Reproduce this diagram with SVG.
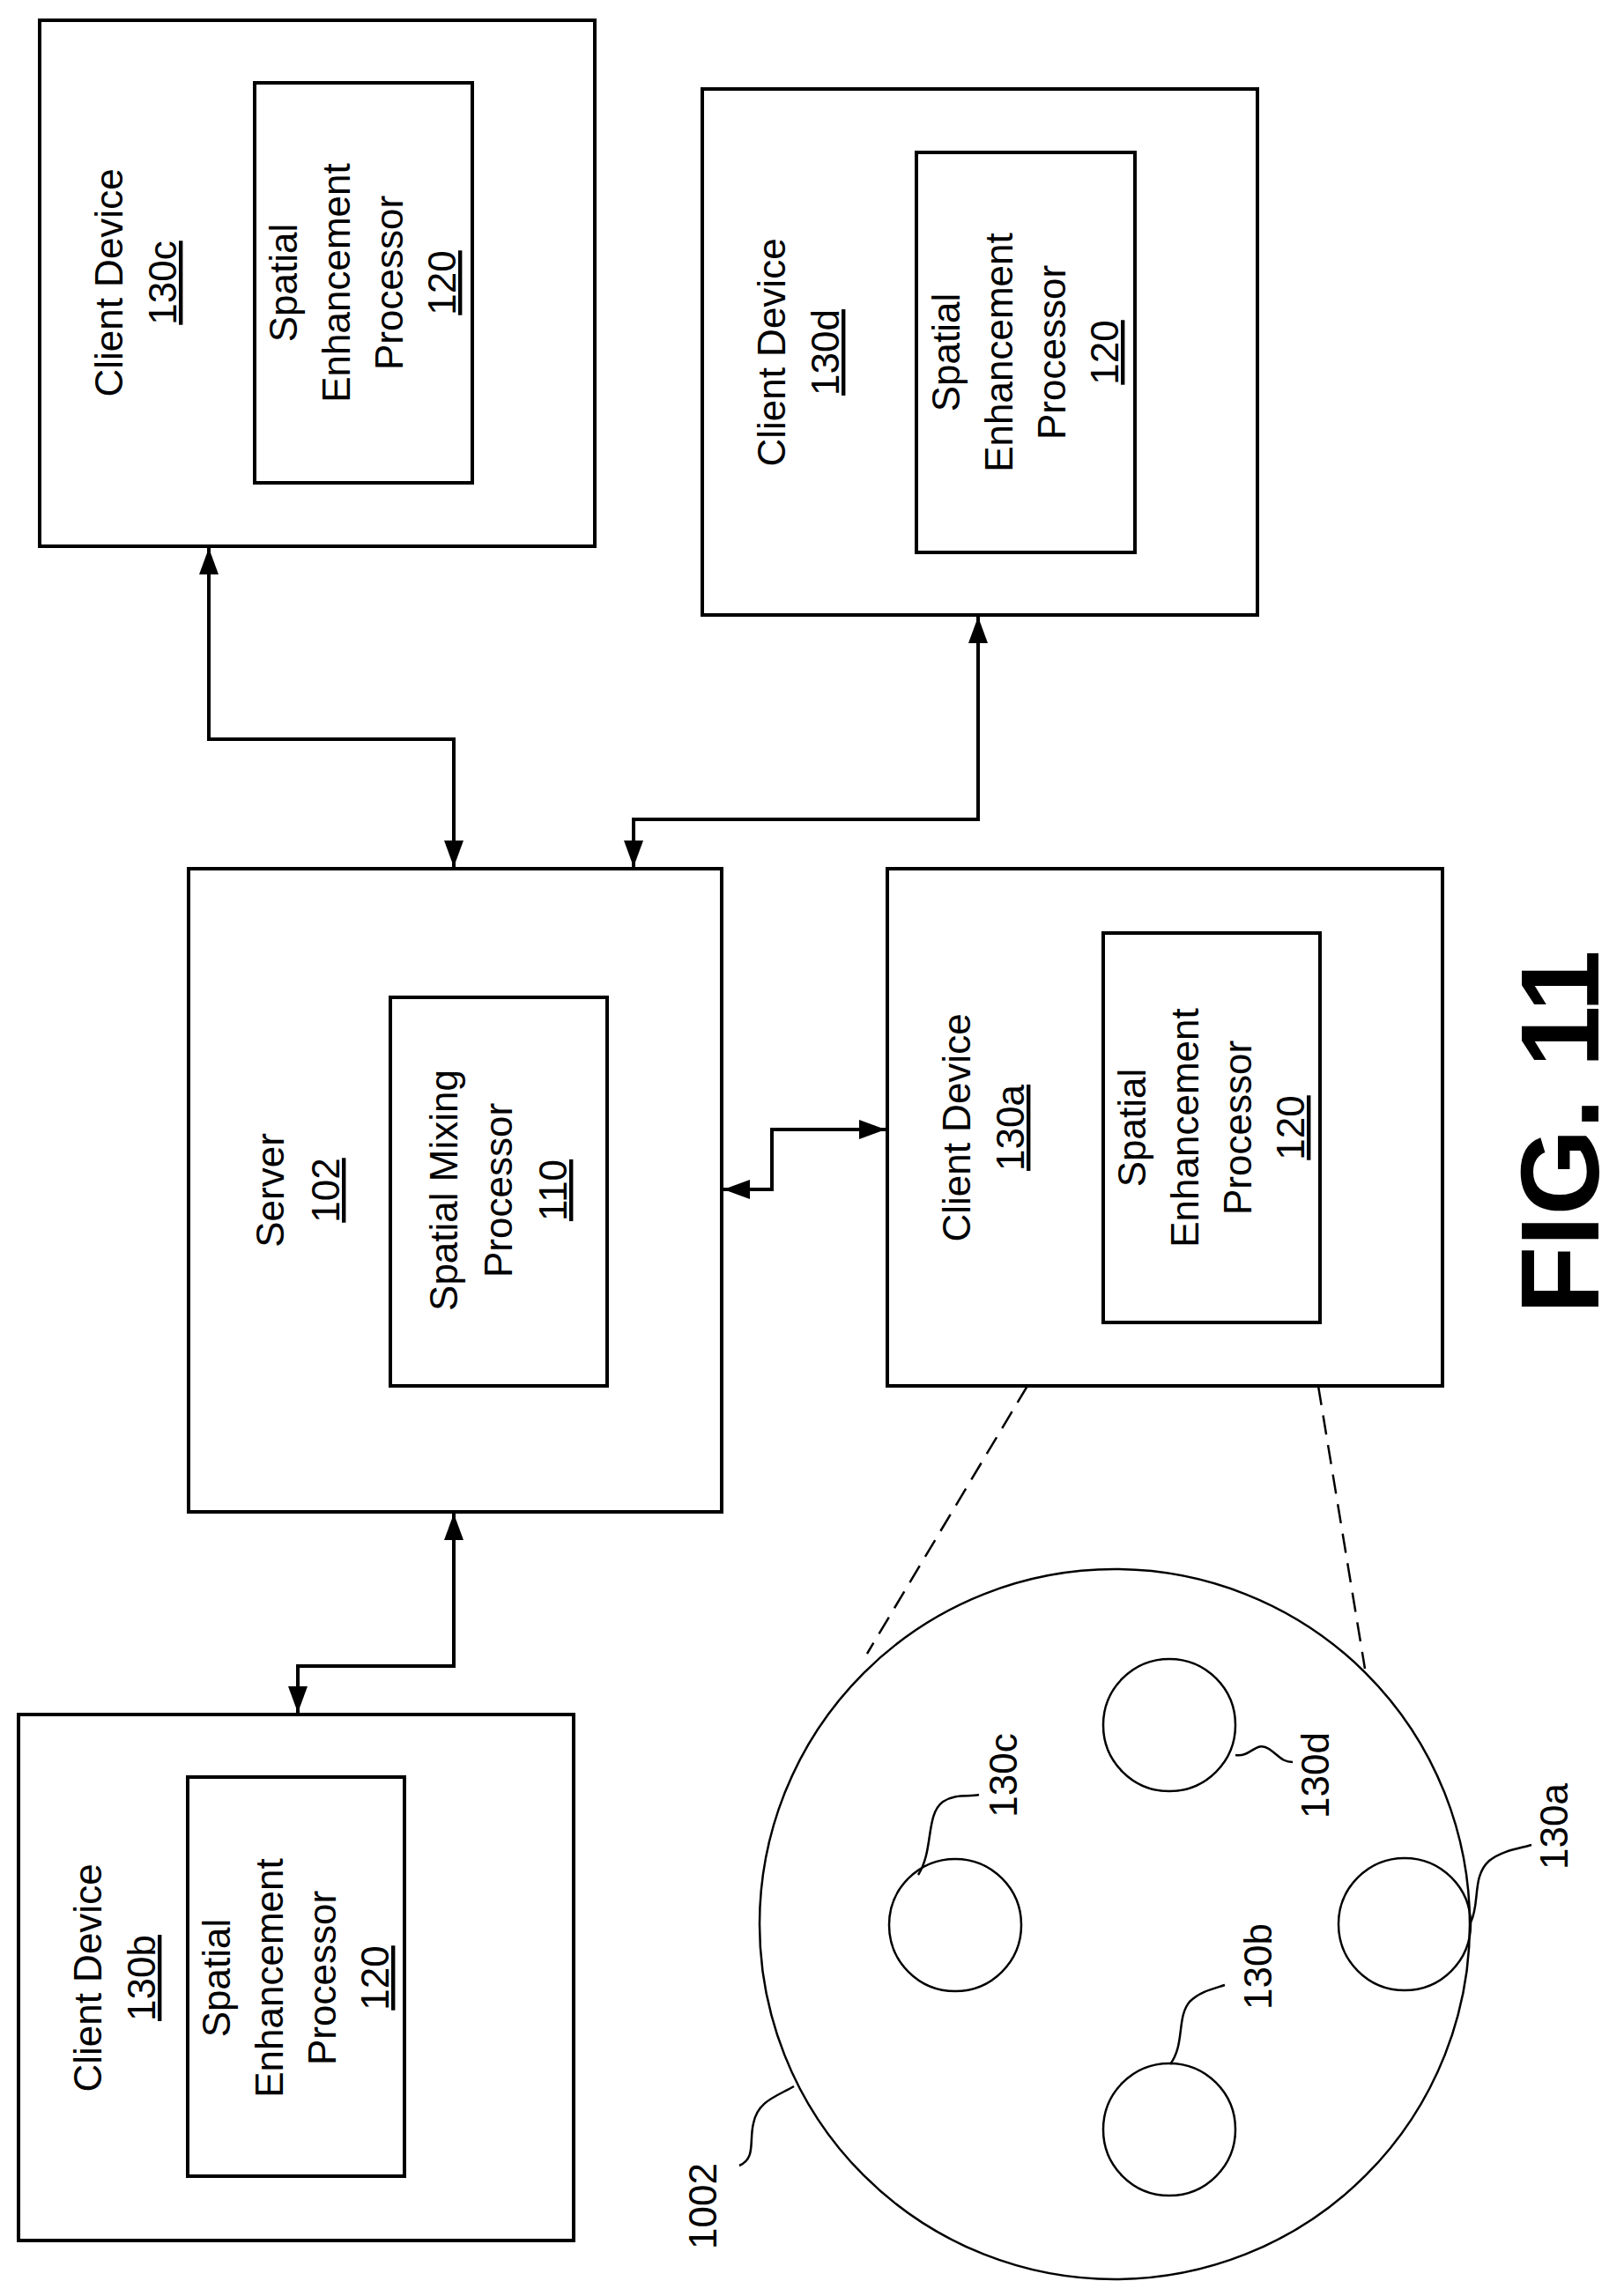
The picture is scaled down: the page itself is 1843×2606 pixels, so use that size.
<svg xmlns="http://www.w3.org/2000/svg" width="1843" height="2606" viewBox="0 0 1843 2606">
<style>
.b{fill:#fff;stroke:#000;stroke-width:4}
.t{font-family:"Liberation Sans",Arial,sans-serif;font-size:44px;text-anchor:middle;fill:#000}
.u{text-decoration:underline}
.c{fill:none;stroke:#000;stroke-width:4}
.thin{fill:none;stroke:#000;stroke-width:2.5}
.d{fill:none;stroke:#000;stroke-width:2.5;stroke-dasharray:22 12}
</style>
<defs>
<marker id="a" markerUnits="userSpaceOnUse" markerWidth="32" markerHeight="22" refX="30" refY="11" orient="auto-start-reverse">
<path d="M0,0 L30,11 L0,22 Z" fill="#000"/>
</marker>
</defs>
<g id="client130c">
<rect class="b" x="45" y="23" width="630" height="597"/>
<rect class="b" x="289" y="94" width="247" height="454"/>
<text class="t" transform="translate(139,321) rotate(-90)">Client Device</text>
<text class="t u" transform="translate(200,321) rotate(-90)">130c</text>
<text class="t" transform="translate(337,321) rotate(-90)">Spatial</text>
<text class="t" transform="translate(397,321) rotate(-90)">Enhancement</text>
<text class="t" transform="translate(457,321) rotate(-90)">Processor</text>
<text class="t u" transform="translate(517,321) rotate(-90)">120</text>
</g>
<g id="client130d">
<rect class="b" x="797" y="101" width="630" height="597"/>
<rect class="b" x="1040" y="173" width="248" height="454"/>
<text class="t" transform="translate(891,400) rotate(-90)">Client Device</text>
<text class="t u" transform="translate(952,400) rotate(-90)">130d</text>
<text class="t" transform="translate(1089,400) rotate(-90)">Spatial</text>
<text class="t" transform="translate(1149,400) rotate(-90)">Enhancement</text>
<text class="t" transform="translate(1209,400) rotate(-90)">Processor</text>
<text class="t u" transform="translate(1269,400) rotate(-90)">120</text>
</g>
<g id="server102">
<rect class="b" x="214" y="986" width="605" height="730"/>
<rect class="b" x="443" y="1132" width="246" height="441"/>
<text class="t" transform="translate(322,1351) rotate(-90)">Server</text>
<text class="t u" transform="translate(385,1351) rotate(-90)">102</text>
<text class="t" transform="translate(519,1351) rotate(-90)">Spatial Mixing</text>
<text class="t" transform="translate(581,1351) rotate(-90)">Processor</text>
<text class="t u" transform="translate(643,1351) rotate(-90)">110</text>
</g>
<g id="client130a">
<rect class="b" x="1007" y="986" width="630" height="587"/>
<rect class="b" x="1252" y="1059" width="246" height="442"/>
<text class="t" transform="translate(1101,1280) rotate(-90)">Client Device</text>
<text class="t u" transform="translate(1162,1280) rotate(-90)">130a</text>
<text class="t" transform="translate(1300,1280) rotate(-90)">Spatial</text>
<text class="t" transform="translate(1360,1280) rotate(-90)">Enhancement</text>
<text class="t" transform="translate(1420,1280) rotate(-90)">Processor</text>
<text class="t u" transform="translate(1480,1280) rotate(-90)">120</text>
</g>
<g id="client130b">
<rect class="b" x="21" y="1946" width="630" height="597"/>
<rect class="b" x="213" y="2017" width="246" height="453"/>
<text class="t" transform="translate(115,2245) rotate(-90)">Client Device</text>
<text class="t u" transform="translate(176,2245) rotate(-90)">130b</text>
<text class="t" transform="translate(261,2245) rotate(-90)">Spatial</text>
<text class="t" transform="translate(321,2245) rotate(-90)">Enhancement</text>
<text class="t" transform="translate(381,2245) rotate(-90)">Processor</text>
<text class="t u" transform="translate(441,2245) rotate(-90)">120</text>
</g>
<g id="connectors">
<polyline class="c" points="237,622 237,839 515,839 515,984" marker-start="url(#a)" marker-end="url(#a)"/>
<polyline class="c" points="1110,700 1110,930 719,930 719,984" marker-start="url(#a)" marker-end="url(#a)"/>
<polyline class="c" points="821,1350 876,1350 876,1282 1005,1282" marker-start="url(#a)" marker-end="url(#a)"/>
<polyline class="c" points="515,1718 515,1891 338,1891 338,1944" marker-start="url(#a)" marker-end="url(#a)"/>
<line class="d" x1="1166" y1="1573" x2="984" y2="1877"/>
<line class="d" x1="1496" y1="1573" x2="1549" y2="1894"/>
</g>
<g id="region1002">
<circle class="thin" cx="1265" cy="2184" r="403"/>
<circle class="thin" cx="1084" cy="2185" r="75"/>
<circle class="thin" cx="1327" cy="1958" r="75"/>
<circle class="thin" cx="1594" cy="2184" r="75"/>
<circle class="thin" cx="1327" cy="2417" r="75"/>
<path class="thin" d="M1042,2128 C1060,2100 1050,2060 1070,2045 C1085,2035 1100,2040 1111,2037"/>
<path class="thin" d="M1402,1992 C1420,1995 1425,1975 1440,1985 C1452,1993 1455,2000 1467,2000"/>
<path class="thin" d="M1669,2182 C1680,2160 1670,2130 1690,2112 C1705,2100 1725,2098 1738,2094"/>
<path class="thin" d="M1328,2343 C1345,2320 1335,2290 1350,2272 C1362,2260 1378,2257 1390,2253"/>
<path class="thin" d="M901,2368 C880,2380 860,2385 855,2410 C850,2430 858,2450 839,2458"/>
<text class="t" transform="translate(1154,2015) rotate(-90)">130c</text>
<text class="t" transform="translate(1508,2015) rotate(-90)">130d</text>
<text class="t" transform="translate(1779,2073) rotate(-90)">130a</text>
<text class="t" transform="translate(1443,2232) rotate(-90)">130b</text>
<text class="t" transform="translate(813,2504) rotate(-90)">1002</text>
</g>
<text id="figlabel" class="t" style="font-size:126px;font-weight:bold" transform="translate(1814,1285) rotate(-90)">FIG. 11</text>
</svg>
